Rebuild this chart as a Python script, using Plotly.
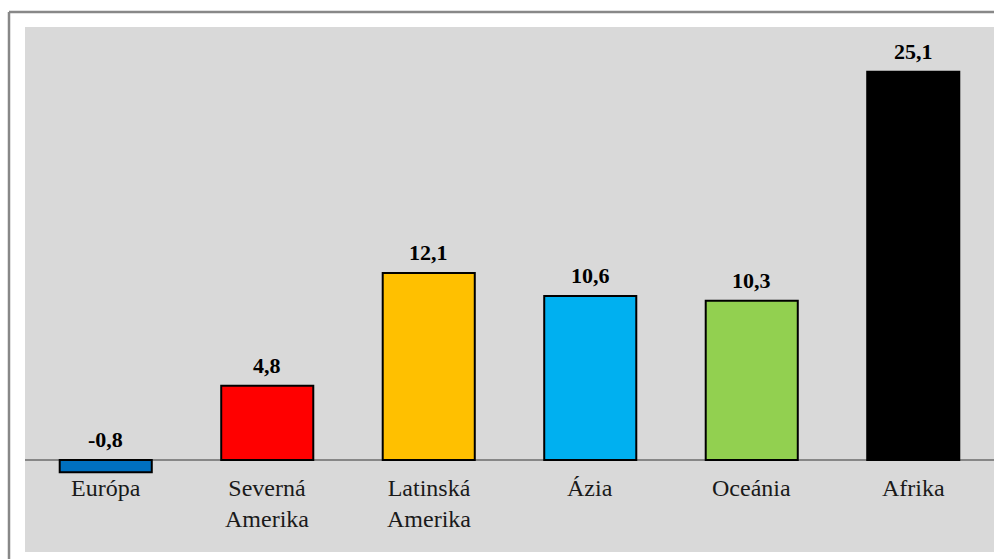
import plotly.graph_objects as go

categories = ["Európa", "Severná<br>Amerika", "Latinská<br>Amerika", "Ázia", "Oceánia", "Afrika"]
values = [-0.8, 4.8, 12.1, 10.6, 10.3, 25.1]
value_labels = ["-0,8", "4,8", "12,1", "10,6", "10,3", "25,1"]
colors = ["#0070C0", "#FF0000", "#FFC000", "#00B0F0", "#92D050", "#000000"]

serif = "'Liberation Serif', 'DejaVu Serif', serif"
W, H = 994, 559
L, R, T, B = 25, 0, 27, 7
pw, ph = W - L - R, H - T - B

x = list(range(len(categories)))
fig = go.Figure(go.Bar(
    x=x, y=values, width=0.57,
    marker=dict(color=colors, line=dict(color="#000000", width=2)),
    hoverinfo="skip",
))

ann = []
for xi, v, lab in zip(x, values, value_labels):
    ann.append(dict(x=xi, y=max(v, 0), xref="x", yref="y", text="<b>" + lab + "</b>",
                    showarrow=False, yanchor="bottom", yshift=6,
                    font=dict(family=serif, size=22, color="#000000")))
for xi, c in zip(x, categories):
    ann.append(dict(x=xi, y=0, xref="x", yref="y", text=c, showarrow=False,
                    yanchor="top", yshift=-13,
                    font=dict(family=serif, size=24, color="#1a1a1a")))

def px(v):
    return (v - L) / pw

def py(v):
    return (H - B - v) / ph

shapes = [
    dict(type="line", xref="paper", yref="paper", x0=px(9), x1=px(9), y0=py(12), y1=py(H + 2),
         line=dict(color="#888888", width=2.5)),
    dict(type="line", xref="paper", yref="paper", x0=px(9), x1=px(W + 2), y0=py(12), y1=py(12),
         line=dict(color="#888888", width=2.5)),
]

fig.update_layout(
    width=W, height=H,
    margin=dict(l=L, r=R, t=T, b=B),
    paper_bgcolor="#ffffff", plot_bgcolor="#d9d9d9",
    showlegend=False,
    font=dict(family=serif),
    xaxis=dict(range=[-0.5, 5.5], showticklabels=False, showgrid=False, zeroline=False,
               showline=False, ticks=""),
    yaxis=dict(range=[-5.95, 28.0], showticklabels=False, showgrid=False, zeroline=True,
               zerolinecolor="#878787", zerolinewidth=1.5, showline=False, ticks=""),
    annotations=ann, shapes=shapes,
)

fig.write_html("out.html")
